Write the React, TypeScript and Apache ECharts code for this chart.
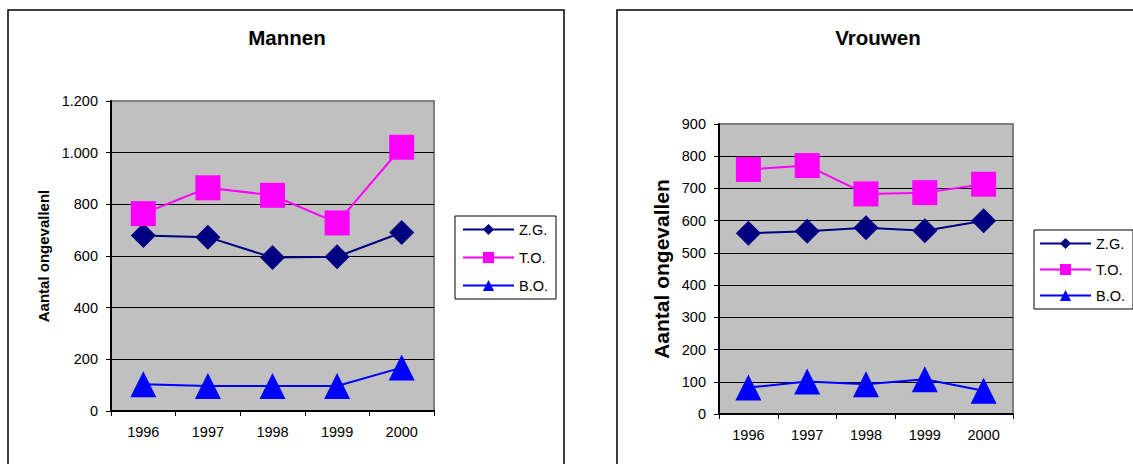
import React, { useEffect, useRef } from "react";
import * as echarts from "echarts";

const categories = ["1996", "1997", "1998", "1999", "2000"];
const seriesNames = ["Z.G.", "T.O.", "B.O."];
const mannenZG = [679, 673, 594, 597, 691];
const mannenTO = [764, 864, 835, 728, 1021];
const mannenBO = [104, 97, 97, 97, 168];
const vrouwenZG = [561, 567, 578, 569, 600];
const vrouwenTO = [759, 771, 683, 687, 713];
const vrouwenBO = [82, 101, 92, 108, 72];

const FONT = "'Liberation Sans', Arial, sans-serif";
const colors = ["#000080", "#FF00FF", "#0000FF"];
const symbols = ["diamond", "rect", "triangle"];
const symbolSizes = [25, 25, 26];

function fmt(v: number) {
  return String(v).replace(/\B(?=(\d{3})+(?!\d))/g, ".");
}

export default function App() {
  const ref = useRef<HTMLDivElement>(null);
  useEffect(() => {
    if (!ref.current) return;
    const chart = echarts.init(ref.current, null, { renderer: "svg" });

    const grids = [
      { left: 111, top: 101, width: 323, height: 310 },
      { left: 719, top: 124, width: 294, height: 290 },
    ];

    const xAxis = grids.map((_, i) => ({
      type: "category",
      gridIndex: i,
      data: categories,
      boundaryGap: true,
      axisLine: { show: true, lineStyle: { color: "#000", width: 2 } },
      axisTick: { show: true, length: 5, lineStyle: { color: "#000", width: 1 } },
      axisLabel: { color: "#000", fontSize: 14.5, fontFamily: FONT, margin: 13 },
      splitLine: { show: false },
    }));

    const yAxis = [
      {
        type: "value",
        gridIndex: 0,
        min: 0,
        max: 1200,
        interval: 200,
        name: "Aantal ongevallenl",
        nameLocation: "middle",
        nameRotate: 90,
        nameGap: 60,
        nameTextStyle: { color: "#000", fontSize: 15, fontWeight: "bold", fontFamily: FONT },
        axisLine: { show: true, lineStyle: { color: "#000", width: 2 } },
        axisTick: { show: true, length: 5, lineStyle: { color: "#000", width: 1 } },
        axisLabel: { color: "#000", fontSize: 14.5, fontFamily: FONT, margin: 13, formatter: (v: number) => fmt(v) },
        splitLine: { show: true, showMinLine: false, showMaxLine: false, lineStyle: { color: "#000", width: 1 } },
      },
      {
        type: "value",
        gridIndex: 1,
        min: 0,
        max: 900,
        interval: 100,
        name: "Aantal ongevallen",
        nameLocation: "middle",
        nameRotate: 90,
        nameGap: 47,
        nameTextStyle: { color: "#000", fontSize: 21, fontWeight: "bold", fontFamily: FONT },
        axisLine: { show: true, lineStyle: { color: "#000", width: 2 } },
        axisTick: { show: true, length: 5, lineStyle: { color: "#000", width: 1 } },
        axisLabel: { color: "#000", fontSize: 14.5, fontFamily: FONT, margin: 13, formatter: (v: number) => fmt(v) },
        splitLine: { show: true, showMinLine: false, showMaxLine: false, lineStyle: { color: "#000", width: 1 } },
      },
    ];

    const datasets = [
      [mannenZG, mannenTO, mannenBO],
      [vrouwenZG, vrouwenTO, vrouwenBO],
    ];
    const series: any[] = [];
    datasets.forEach((group, gi) => {
      group.forEach((vals, si) => {
        series.push({
          type: "line",
          name: seriesNames[si],
          xAxisIndex: gi,
          yAxisIndex: gi,
          data: vals,
          symbol: symbols[si],
          symbolSize: symbolSizes[si],
          showAllSymbol: true,
          lineStyle: { color: colors[si], width: 2 },
          itemStyle: { color: colors[si] },
          emphasis: { disabled: true },
        });
      });
    });

    const legendCommon = {
      orient: "vertical",
      itemWidth: 51,
      itemHeight: 14,
      backgroundColor: "#fff",
      borderColor: "#000",
      borderWidth: 1,
      borderRadius: 0,
      selectedMode: false,
      data: seriesNames,
      textStyle: { color: "#000", fontSize: 14.5, fontFamily: FONT },
    };

    chart.setOption({
      animation: false,
      backgroundColor: "#fff",
      title: [
        {
          text: "Mannen",
          left: 287,
          top: 27,
          textAlign: "center",
          padding: 0,
          textStyle: { color: "#000", fontSize: 20.5, fontWeight: "bold", fontFamily: FONT },
        },
        {
          text: "Vrouwen",
          left: 878,
          top: 27,
          textAlign: "center",
          padding: 0,
          textStyle: { color: "#000", fontSize: 20.5, fontWeight: "bold", fontFamily: FONT },
        },
      ],
      grid: grids.map((g) => ({
        ...g,
        show: true,
        backgroundColor: "#C0C0C0",
        borderColor: "#808080",
        borderWidth: 2,
        containLabel: false,
      })),
      xAxis,
      yAxis,
      legend: [
        { ...legendCommon, left: 455, top: 216, padding: [6, 8, 6, 7], itemGap: 13 },
        { ...legendCommon, left: 1034, top: 230, padding: [6, 8, 6, 5], itemGap: 11 },
      ],
      graphic: [
        {
          type: "rect",
          silent: true,
          z: -10,
          shape: { x: 8, y: 10, width: 556, height: 470 },
          style: { fill: "none", stroke: "#000", lineWidth: 1.5 },
        },
        {
          type: "rect",
          silent: true,
          z: -10,
          shape: { x: 617, y: 10, width: 540, height: 470 },
          style: { fill: "none", stroke: "#000", lineWidth: 1.5 },
        },
      ],
      series,
    });
    return () => chart.dispose();
  }, []);
  return (
    <div
      ref={ref}
      style={{ position: "fixed", left: 0, top: 0, width: 1133, height: 464 }}
    />
  );
}
